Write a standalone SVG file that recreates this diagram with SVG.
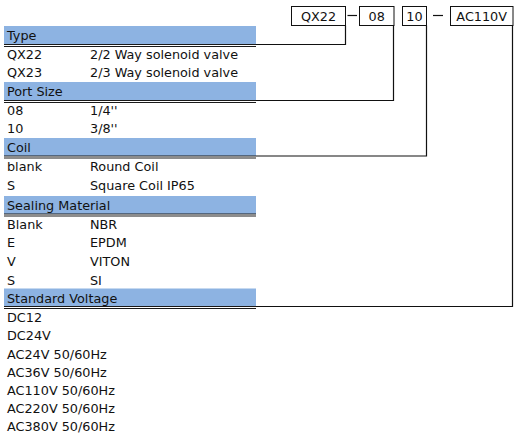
<svg xmlns="http://www.w3.org/2000/svg" width="522" height="440" viewBox="0 0 522 440">
<style>
text{font-family:"DejaVu Sans",Verdana,sans-serif;font-size:12.8px;fill:#111}
.bar{fill:#8DB3E2}
.dl{stroke:#1a1a1a;stroke-width:1;fill:none}
.box{fill:#fff;stroke:#111;stroke-width:1}
.c{stroke:#111;stroke-width:1.2;fill:none}
.m{text-anchor:middle}
</style>
<rect width="522" height="440" fill="#fff"/>
<g id="code-boxes">
<g id="box-qx22"><rect class="box" x="291.5" y="6.5" width="54" height="19"/><text class="m" x="318.5" y="20.5">QX22</text></g>
<g id="box-08"><rect class="box" x="359.5" y="6.5" width="34.5" height="19"/><text class="m" x="376.7" y="20.5">08</text></g>
<g id="box-10"><rect class="box" x="402.5" y="6.5" width="24" height="19"/><text class="m" x="414.5" y="20.5">10</text></g>
<g id="box-ac110v"><rect class="box" x="450.5" y="6.5" width="62.5" height="19"/><text class="m" x="481.7" y="20.5">AC110V</text></g>
</g>
<g id="connectors">
<line class="c" x1="347.5" y1="15.5" x2="357" y2="15.5"/>
<line class="c" x1="433" y1="15.5" x2="443" y2="15.5"/>
<polyline class="c" points="256,44.5 345.5,44.5 345.5,25.5"/>
<polyline class="c" points="256,100.5 393.5,100.5 393.5,25.5"/>
<polyline class="c" points="256,156 426.5,156 426.5,25.5"/>
<polyline class="c" points="256,306.5 512.5,306.5 512.5,25.5"/>
</g>
<g id="type">
<rect class="bar" x="4" y="26" width="252" height="18"/>
<path class="dl" d="M4 44.5H256M4 46.5H256"/>
<text x="7" y="39.5">Type</text>
<text x="7" y="58.5">QX22</text><text x="90" y="58.5">2/2 Way solenoid valve</text>
<text x="7" y="76.5">QX23</text><text x="90" y="76.5">2/3 Way solenoid valve</text>
</g>
<g id="port-size">
<rect class="bar" x="4" y="82" width="252" height="18"/>
<path class="dl" d="M4 100.5H256M4 102.5H256"/>
<text x="7" y="95.5">Port Size</text>
<text x="7" y="114.5">08</text><text x="90" y="114.5">1/4''</text>
<text x="7" y="132.5">10</text><text x="90" y="132.5">3/8''</text>
</g>
<g id="coil">
<rect class="bar" x="4" y="138" width="252" height="18"/>
<path class="dl" d="M4 156H256M4 158H256"/>
<text x="7" y="151.5">Coil</text>
<text x="7" y="171">blank</text><text x="90" y="171">Round Coil</text>
<text x="7" y="189.5">S</text><text x="90" y="189.5">Square Coil IP65</text>
</g>
<g id="sealing-material">
<rect class="bar" x="4" y="196" width="252" height="18"/>
<path class="dl" d="M4 214H256M4 216H256"/>
<text x="7" y="209.5">Sealing Material</text>
<text x="7" y="228.5">Blank</text><text x="90" y="228.5">NBR</text>
<text x="7" y="247">E</text><text x="90" y="247">EPDM</text>
<text x="7" y="265.5">V</text><text x="90" y="265.5">VITON</text>
<text x="7" y="284.5">S</text><text x="90" y="284.5">SI</text>
</g>
<g id="standard-voltage">
<rect class="bar" x="4" y="288.5" width="252" height="18"/>
<path class="dl" d="M4 306.5H256M4 308.5H256"/>
<text x="7" y="302.5">Standard Voltage</text>
<text x="7" y="321.5">DC12</text>
<text x="7" y="339.5">DC24V</text>
<text x="7" y="358.5">AC24V 50/60Hz</text>
<text x="7" y="376.5">AC36V 50/60Hz</text>
<text x="7" y="394.5">AC110V 50/60Hz</text>
<text x="7" y="412.5">AC220V 50/60Hz</text>
<text x="7" y="430.5">AC380V 50/60Hz</text>
</g>
</svg>
